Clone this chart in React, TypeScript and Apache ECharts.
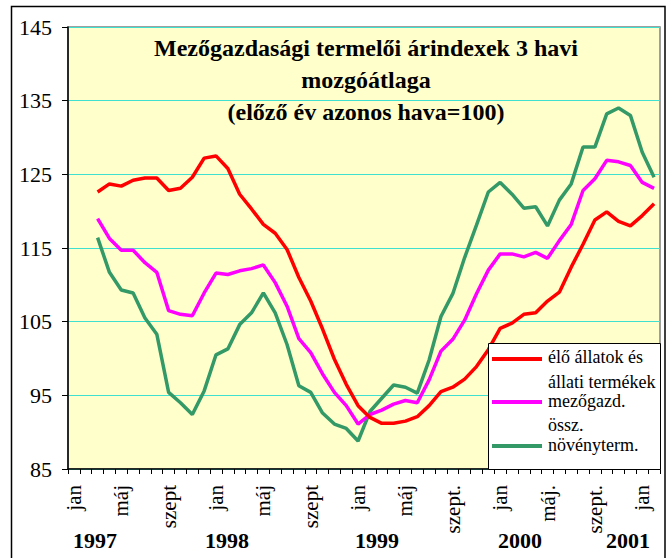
import React, { useEffect, useRef } from 'react';
import * as echarts from 'echarts';

const FONT = 'Liberation Serif';

const monthNames = ['jan', 'febr', 'márc', 'ápr', 'máj', 'jún', 'júl', 'aug', 'szept', 'okt', 'nov', 'dec'];
const years = ['1997', '1998', '1999', '2000', '2001'];

// 50 months: 1997 jan .. 2001 febr
const categories: string[] = [];
years.forEach((y) => monthNames.forEach((m) => categories.push(`${y} ${m}`)));
const monthCategories = categories.slice(0, 50);

const tickLabels = [
  'jan', '', '', '', 'máj', '', '', '', 'szept', '', '', '',
  'jan', '', '', '', 'máj', '', '', '', 'szept', '', '', '',
  'jan', '', '', '', 'máj', '', '', '', 'szept.', '', '', '',
  'jan', '', '', '', 'máj.', '', '', '', 'szept.', '', '', '',
  'jan', '',
];

const seriesNames = ['élő állatok és állati termékek', 'mezőgazd. össz.', 'növényterm.'];

const eloAllatok = [
  null, null, 122.6, 123.7, 123.4, 124.2, 124.5, 124.5, 122.8, 123.1, 124.6, 127.2,
  127.5, 125.8, 122.3, 120.3, 118.2, 117.0, 114.8, 111.0, 107.8, 104.0, 99.9, 96.5,
  93.6, 92.0, 91.2, 91.2, 91.5, 92.1, 93.6, 95.5, 96.1, 97.2, 98.9, 101.2,
  104.1, 104.8, 106.0, 106.2, 107.8, 109.0, 112.4, 115.5, 118.8, 119.9, 118.6, 118.0,
  119.4, 121.0,
];

const mezogazdOssz = [
  null, null, 119.0, 116.3, 114.7, 114.7, 113.0, 111.7, 106.5, 106.0, 105.8, 108.9,
  111.6, 111.4, 111.9, 112.2, 112.7, 110.3, 107.1, 102.7, 100.8, 97.9, 95.4, 93.6,
  91.1, 92.4, 93.0, 93.8, 94.3, 94.0, 97.1, 101.0, 102.6, 105.2, 108.8, 112.0,
  114.2, 114.2, 113.8, 114.4, 113.6, 116.0, 118.2, 122.8, 124.4, 126.9, 126.7, 126.2,
  123.9, 123.1,
];

const novenyterm = [
  null, null, 116.4, 111.7, 109.3, 108.9, 105.5, 103.3, 95.4, 94.0, 92.4, 95.6,
  100.5, 101.3, 104.6, 106.2, 108.9, 106.2, 101.9, 96.3, 95.4, 92.6, 91.1, 90.5,
  88.8, 92.8, 94.6, 96.4, 96.1, 95.3, 99.8, 105.7, 108.8, 113.7, 118.1, 122.6,
  123.9, 122.3, 120.4, 120.6, 118.0, 121.5, 123.7, 128.7, 128.7, 133.2, 134.0, 133.0,
  128.0, 124.6,
];

const seriesColors = ['#FF0000', '#FF00FF', '#339966'];
const seriesData = [eloAllatok, mezogazdOssz, novenyterm];

const titleLines = ['Mezőgazdasági termelői árindexek 3 havi', 'mozgóátlaga', '(előző év azonos hava=100)'];

export default function App() {
  const ref = useRef<HTMLDivElement>(null);

  useEffect(() => {
    if (!ref.current) return;
    const chart = echarts.init(ref.current, undefined, { renderer: 'svg' });

    const yearX = [95, 227, 377, 520, 628];

    const graphics: any[] = [
      // outer chart border
      {
        type: 'rect',
        shape: { x: 11.5, y: 6.5, width: 653.5, height: 560 },
        style: { fill: 'none', stroke: '#000', lineWidth: 1.5 },
        silent: true,
        z: 0,
      },
      // title
      ...titleLines.map((t, i) => ({
        type: 'text',
        x: 366,
        y: 48 + i * 32,
        style: {
          text: t,
          fill: '#000',
          fontFamily: FONT,
          fontSize: 24,
          fontWeight: 'bold',
          textAlign: 'center',
          textVerticalAlign: 'middle',
        },
        z: 50,
      })),
      // year labels
      ...years.map((y, i) => ({
        type: 'text',
        x: yearX[i],
        y: 540,
        style: {
          text: y,
          fill: '#000',
          fontFamily: FONT,
          fontSize: 22,
          fontWeight: 'bold',
          textAlign: 'center',
          textVerticalAlign: 'middle',
        },
        z: 50,
      })),
      // legend
      {
        type: 'group',
        z: 100,
        children: [
          {
            type: 'rect',
            shape: { x: 488.5, y: 343.5, width: 172, height: 126 },
            style: { fill: '#fff', stroke: '#000', lineWidth: 1 },
            z: 100,
          },
          ...[359, 402, 446].map((yy, i) => ({
            type: 'line',
            shape: { x1: 492, y1: yy, x2: 542, y2: yy },
            style: { stroke: seriesColors[i], lineWidth: 4 },
            z: 101,
          })),
          ...[
            ['élő állatok és', 357],
            ['állati termékek', 382],
            ['mezőgazd.', 401],
            ['össz.', 425],
            ['növényterm.', 445],
          ].map(([t, yy]) => ({
            type: 'text',
            x: 548,
            y: yy as number,
            style: {
              text: t as string,
              fill: '#000',
              fontFamily: FONT,
              fontSize: 18,
              textAlign: 'left',
              textVerticalAlign: 'middle',
            },
            z: 101,
          })),
        ],
      },
    ];

    chart.setOption({
      animation: false,
      backgroundColor: '#fff',
      textStyle: { fontFamily: FONT },
      grid: {
        left: 68,
        top: 27,
        right: 9,
        bottom: 89,
        show: true,
        backgroundColor: '#FFFFCC',
        borderColor: '#808080',
        borderWidth: 1.5,
        containLabel: false,
      },
      xAxis: {
        type: 'category',
        data: monthCategories,
        boundaryGap: true,
        axisLine: { show: true, lineStyle: { color: '#000', width: 1.5 } },
        axisTick: { show: true, interval: 0, length: 5, lineStyle: { color: '#000', width: 1 } },
        axisLabel: {
          interval: 0,
          rotate: 90,
          margin: 16,
          fontFamily: FONT,
          fontSize: 21,
          color: '#000',
          formatter: (_v: string, idx: number) => tickLabels[idx],
        },
        splitLine: { show: false },
      },
      yAxis: {
        type: 'value',
        min: 85,
        max: 145,
        interval: 10,
        axisLine: { show: true, lineStyle: { color: '#000', width: 1.5 } },
        axisTick: { show: true, length: 6, lineStyle: { color: '#000', width: 1 } },
        axisLabel: {
          margin: 16,
          fontFamily: FONT,
          fontSize: 22,
          color: '#000',
        },
        splitLine: { show: true, lineStyle: { color: '#40E0D0', width: 1 } },
      },
      legend: { show: false },
      series: seriesData.map((d, i) => ({
        name: seriesNames[i],
        type: 'line',
        data: d,
        symbol: 'none',
        lineStyle: { color: seriesColors[i], width: 3.5 },
        itemStyle: { color: seriesColors[i] },
        z: 5 - i,
      })),
      graphic: graphics,
    });

    return () => chart.dispose();
  }, []);

  return (
    <div
      ref={ref}
      style={{ position: 'fixed', left: 0, top: 0, width: 669, height: 558 }}
    />
  );
}
